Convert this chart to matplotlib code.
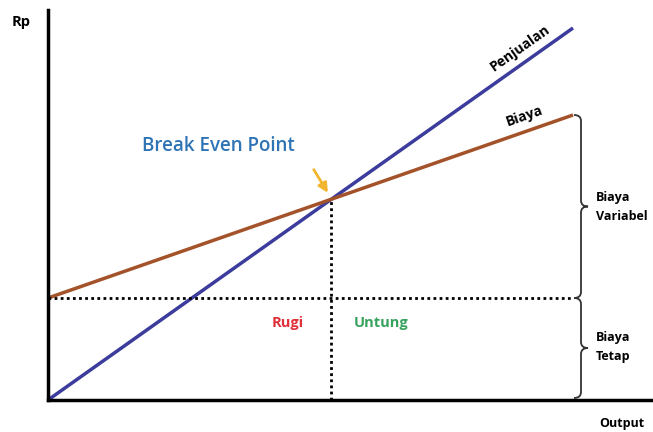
import numpy as np
import matplotlib.pyplot as plt
from matplotlib.path import Path
from matplotlib.patches import PathPatch

plt.rcParams['font.family'] = ['Open Sans', 'DejaVu Sans']

# values (arbitrary units)
output = np.array([0, 525])
penjualan = np.array([0, 372])
biaya = np.array([102, 285])
biaya_tetap = 102

# break even point from the two lines
s_pen = (penjualan[1] - penjualan[0]) / (output[1] - output[0])
s_bia = (biaya[1] - biaya[0]) / (output[1] - output[0])
bep_x = (biaya[0] - penjualan[0]) / (s_pen - s_bia)
bep_y = penjualan[0] + s_pen * bep_x

fig = plt.figure(figsize=(6.53, 4.32), dpi=100)
ax = fig.add_axes([48 / 653, 32 / 432, 605 / 653, 390 / 432])
ax.set_xlim(0, 605)
ax.set_ylim(0, 390)
for s in ['top', 'right']:
    ax.spines[s].set_visible(False)
for s in ['left', 'bottom']:
    ax.spines[s].set_linewidth(2.5)
    ax.spines[s].set_color('black')
ax.set_xticks([])
ax.set_yticks([])

ax.plot(output, penjualan, color='#3b3c9c', lw=2.5, solid_capstyle='butt', clip_on=False)
ax.plot(output, biaya, color='#a4522a', lw=2.5, solid_capstyle='butt', clip_on=False)

ax.plot([0, output[1]], [biaya_tetap, biaya_tetap], color='black', lw=2, ls=(0, (1, 1.2)))
ax.plot([bep_x, bep_x], [0, bep_y], color='black', lw=2, ls=(0, (1, 1.2)))

ax.text(472, 352, 'Penjualan', rotation=35.3, fontsize=10,
        fontweight='bold', ha='center', va='center', rotation_mode='anchor')
ax.text(477, 284, 'Biaya', rotation=19.2, fontsize=10,
        fontweight='bold', ha='center', va='center', rotation_mode='anchor')

ax.text(170, 254, 'Break Even Point', color='#2e74b5', fontsize=13.5, fontweight=600,
        ha='center', va='center')
ax.annotate('', xy=(bep_x - 2, bep_y + 4), xytext=(bep_x - 19, bep_y + 32),
            arrowprops=dict(arrowstyle='-|>', color='#f2b52e', lw=2, mutation_scale=14))

ax.text(bep_x - 44, 77, 'Rugi', color='#e0303a', fontsize=10.5, fontweight='bold',
        ha='center', va='center')
ax.text(bep_x + 50, 77, 'Untung', color='#37a25e', fontsize=10.5, fontweight='bold',
        ha='center', va='center')


def brace(ax, x, y_lo, y_hi, w):
    ym = (y_lo + y_hi) / 2
    q = 6
    verts = [(x, y_hi), (x + w / 2, y_hi), (x + w / 2, y_hi - q),
             (x + w / 2, ym + q),
             (x + w / 2, ym), (x + w, ym),
             (x + w / 2, ym), (x + w / 2, ym - q),
             (x + w / 2, y_lo + q),
             (x + w / 2, y_lo), (x, y_lo)]
    codes = [Path.MOVETO, Path.CURVE3, Path.CURVE3,
             Path.LINETO,
             Path.CURVE3, Path.CURVE3,
             Path.CURVE3, Path.CURVE3,
             Path.LINETO,
             Path.CURVE3, Path.CURVE3]
    ax.add_patch(PathPatch(Path(verts, codes), fill=False, lw=1.3, color='#333333',
                           clip_on=False))


brace(ax, output[1] + 1, biaya_tetap, biaya[1], 14)
brace(ax, output[1] + 1, 2, biaya_tetap, 14)

ax.text(output[1] + 23, (biaya[1] + biaya_tetap) / 2, 'Biaya\nVariabel', fontsize=9,
        fontweight='bold', ha='left', va='center', linespacing=1.6, clip_on=False)
ax.text(output[1] + 23, biaya_tetap / 2 + 2, 'Biaya\nTetap', fontsize=9,
        fontweight='bold', ha='left', va='center', linespacing=1.6, clip_on=False)

fig.text(21 / 653, 1 - 22 / 432, 'Rp', fontsize=10.5, fontweight='bold', ha='center', va='center')
fig.text(622 / 653, 1 - 423 / 432, 'Output', fontsize=9, fontweight='bold', ha='center', va='center')

plt.savefig('out.png', dpi=100)
